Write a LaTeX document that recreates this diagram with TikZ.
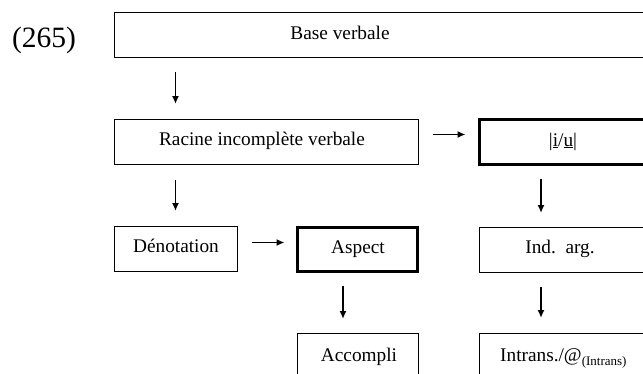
\documentclass[tikz,border=0pt]{standalone}
\usepackage{fontspec}
\setmainfont{Liberation Serif}
\usetikzlibrary{arrows.meta}
\tikzset{
	box/.style={draw,line width=0.9pt,anchor=north west,inner sep=0pt,outer sep=0pt},
	heavybox/.style={box,line width=3.2pt},
	txt/.style={anchor=base,inner sep=0pt,font=\fontsize{19.3}{23}\selectfont},
	arr/.style={-{Latex[length=8pt,width=7pt]},line width=1.8pt},
}
\begin{document}
\begin{tikzpicture}[x=1pt,y=-1pt]
		\useasboundingbox (0,0) rectangle (643,373);
		\clip (0,0) rectangle (643,373);
		\node[anchor=base,inner sep=0pt,font=\fontsize{29.5}{34}\selectfont] (num) at (44,47) {(265)};
		% boxes
		\node[box,minimum width=560pt,minimum height=45pt] (base) at (114,12) {};
		\node[box,minimum width=304pt,minimum height=45pt] (racine) at (114,119) {};
		\node[heavybox,minimum width=200pt,minimum height=45pt] (iu) at (479.5,119.5) {};
		\node[box,minimum width=123pt,minimum height=45pt] (denot) at (114,226) {};
		\node[heavybox,minimum width=120pt,minimum height=44pt] (aspect) at (297.5,227.5) {};
		\node[box,minimum width=200pt,minimum height=45pt] (indarg) at (479,227) {};
		\node[box,minimum width=121pt,minimum height=60pt] (accompli) at (297,333) {};
		\node[box,minimum width=200pt,minimum height=60pt] (intrans) at (479,333) {};
		% texts
		\node[txt] (baset) at (340,39) {Base verbale};
		\node[txt] (racinet) at (262,145) {Racine incomplète verbale};
		\node[txt] (iut) at (563,146) {|\underline{i}/\underline{u}|};
		\node[txt] (denott) at (176,252) {Dénotation};
		\node[txt] (aspectt) at (358,253) {Aspect};
		\node[txt] (indargt) at (560,253) {Ind.\ \ arg.};
		\node[txt] (accomplit) at (359,361) {Accompli};
		\node[txt,anchor=base west] (intranst) at (500,361) {Intrans./@\raisebox{-4.5pt}{\fontsize{13}{15}\selectfont(Intrans)}};
		% arrow columns
		\coordinate (lc) at (343,0);
		\coordinate (rc) at (541,0);
		\draw[arr,shorten <=15pt,shorten >=15pt] (base.south -| denot.north) -- (racine.north -| denot.north);
		\draw[arr,shorten <=15pt,shorten >=14pt] ([yshift=7pt]racine.east) -- ([yshift=7pt]racine.east -| iu.west);
		\draw[arr,shorten <=16pt,shorten >=15pt] (racine.south -| denot.north) -- (denot.north);
		\draw[arr,shorten <=14pt,shorten >=14pt] (iu.south -| rc) -- (indarg.north -| rc);
		\draw[arr,shorten <=15pt,shorten >=13pt] ([yshift=6pt]denot.east) -- ([yshift=6pt]denot.east -| aspect.west);
		\draw[arr,shorten <=14pt,shorten >=14pt] (aspect.south -| lc) -- (accompli.north -| lc);
		\draw[arr,shorten <=15pt,shorten >=15pt] (indarg.south -| rc) -- (intrans.north -| rc);
	\end{tikzpicture}
\end{document}
